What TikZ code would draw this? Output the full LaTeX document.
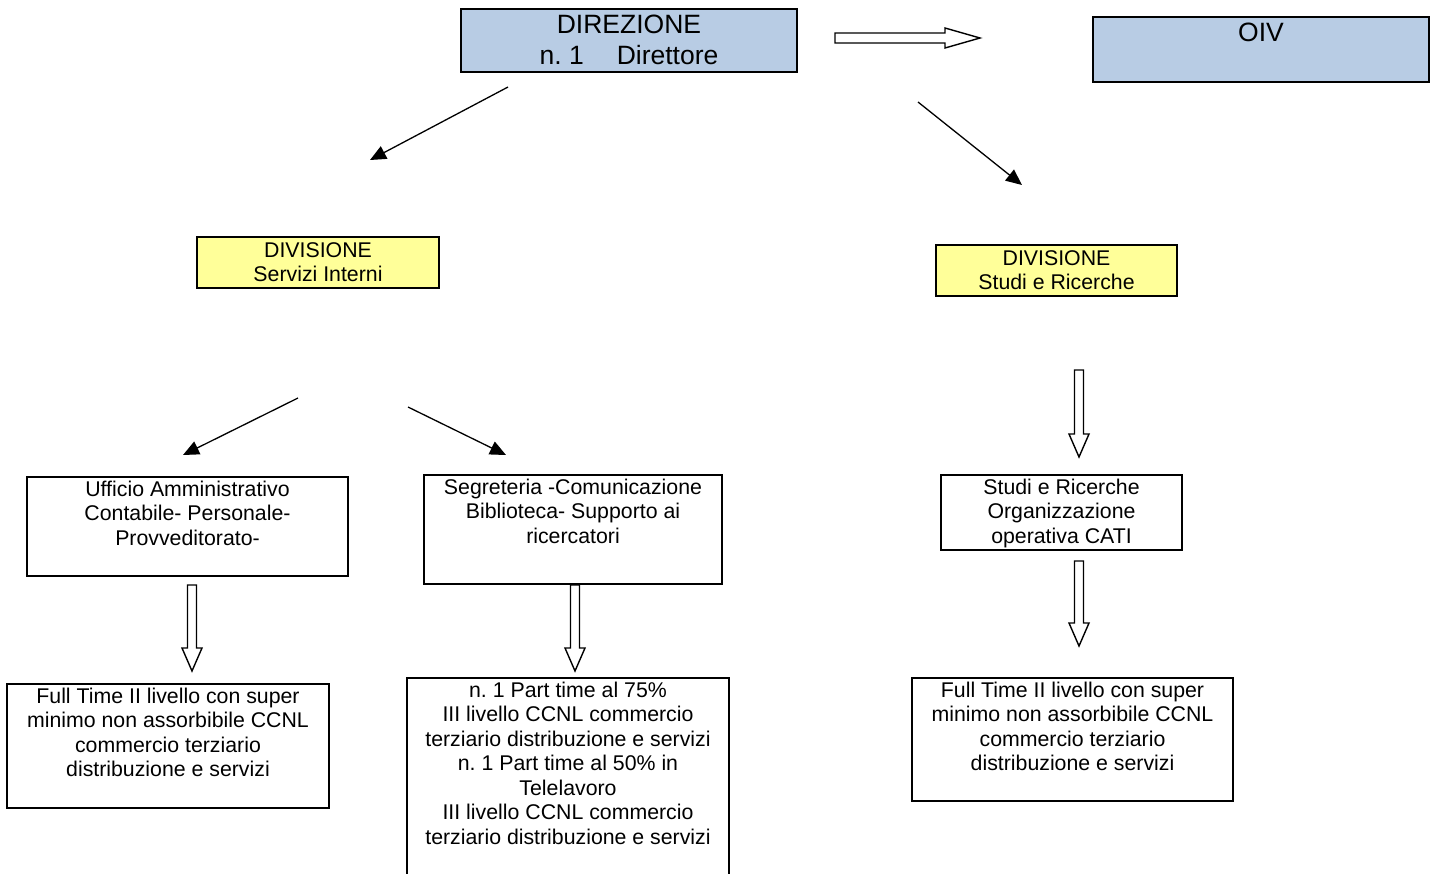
\documentclass[tikz,border=0pt]{standalone}
\usepackage{fontspec}
\setmainfont{Liberation Sans}
\usetikzlibrary{arrows.meta}
\definecolor{dirblue}{HTML}{B8CCE4}
\definecolor{divyellow}{HTML}{FFFF99}
\frenchspacing
\newcommand\hdown[3]{% x, ytop, ytip
  \draw[hollow] (#1-4.5,#2) -- (#1+4.5,#2) -- (#1+4.5,#3-23) -- (#1+10,#3-23) -- (#1,#3) -- (#1-10,#3-23) -- (#1-4.5,#3-23) -- cycle;}
\begin{document}
\begin{tikzpicture}[x=1pt,y=-1pt,
  box/.style={draw, line width=1.4pt},
  txt/.style={font=\fontsize{21.3}{24.5}\selectfont, align=center, anchor=north, inner sep=0pt},
  bigtxt/.style={font=\fontsize{26.5}{31}\selectfont, align=center, anchor=north, inner sep=0pt},
  thin/.style={line width=1.3pt, -{Triangle[length=16pt,width=14pt]}},
  hollow/.style={line width=1.4pt, fill=white, line join=miter}]
\useasboundingbox (0,0) rectangle (1431,873);
\clip (0,0) rectangle (1431,873);
% top boxes
\draw[box, fill=dirblue] (461,9) rectangle (797,72);
\node[bigtxt] (dir) at (629,15) {DIREZIONE\\n. 1\hspace{33pt}Direttore};
\draw[box, fill=dirblue] (1093,17) rectangle (1429,82);
\node[bigtxt] (oiv) at (1261,23) {OIV};
% divisions
\draw[box, fill=divyellow] (197,237) rectangle (439,288);
\node[txt] (divsi) at (318,242) {DIVISIONE\\Servizi Interni};
\draw[box, fill=divyellow] (936,245) rectangle (1177,296);
\node[txt] (divsr) at (1056.5,250) {DIVISIONE\\Studi e Ricerche};
% offices
\draw[box] (27,477) rectangle (348,576);
\node[txt] (uff) at (187.5,480.5) {Ufficio Amministrativo\\Contabile- Personale-\\Provveditorato-};
\draw[box] (424,475) rectangle (722,584);
\node[txt] (seg) at (573,478.5) {Segreteria -Comunicazione\\Biblioteca- Supporto ai\\ricercatori};
\draw[box] (941,475) rectangle (1182,550);
\node[txt] (sro) at (1061.5,478.5) {Studi e Ricerche\\Organizzazione\\operativa CATI};
% staff
\draw[box] (7,684) rectangle (329,808);
\node[txt] (ftl) at (168,687.5) {Full Time II livello con super\\minimo non assorbibile CCNL\\commercio terziario\\distribuzione e servizi};
\draw[box] (407,678) rectangle (729,890);
\node[txt] (pt) at (568,681.5) {n. 1 Part time al 75\%\\III livello CCNL commercio\\terziario distribuzione e servizi\\n. 1 Part time al 50\% in\\Telelavoro\\III livello CCNL commercio\\terziario distribuzione e servizi};
\draw[box] (912,678) rectangle (1233,801);
\node[txt] (ftr) at (1072.5,681.5) {Full Time II livello con super\\minimo non assorbibile CCNL\\commercio terziario\\distribuzione e servizi};
% thin arrows
\coordinate (a1s) at (508,87);  \coordinate (a1e) at (370,160);
\coordinate (a2s) at (918,102); \coordinate (a2e) at (1022,185);
\coordinate (a3s) at (298,398); \coordinate (a3e) at (183,455);
\coordinate (a4s) at (408,407); \coordinate (a4e) at (506,455);
\draw[thin] (a1s) -- (a1e);
\draw[thin] (a2s) -- (a2e);
\draw[thin] (a3s) -- (a3e);
\draw[thin] (a4s) -- (a4e);
% hollow arrows
\draw[hollow] (835,33) -- (945,33) -- (945,28) -- (980,38) -- (945,48) -- (945,43) -- (835,43) -- cycle;
\hdown{1079}{370}{457}
\hdown{1079}{561}{646}
\hdown{192}{585}{671}
\hdown{575}{585}{671}
\end{tikzpicture}
\end{document}
